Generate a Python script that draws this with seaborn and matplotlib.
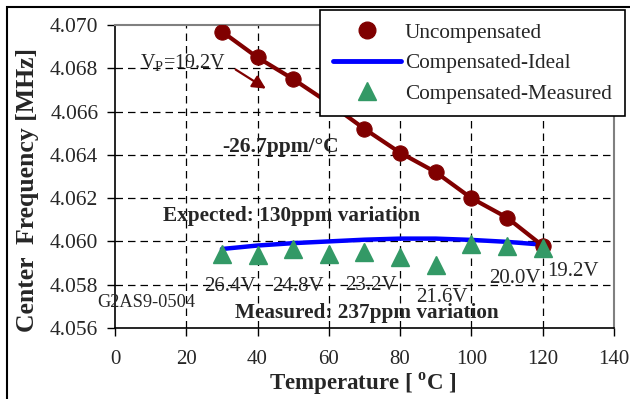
import numpy as np
import pandas as pd
import matplotlib
matplotlib.use("Agg")
import matplotlib.pyplot as plt
import seaborn as sns
from matplotlib.patches import Rectangle
from matplotlib.lines import Line2D

# data
temps = [30, 40, 50, 60, 70, 80, 90, 100, 110, 120]
uncomp = [4.0697, 4.0685, 4.0675, 4.0664, 4.0652, 4.0641, 4.0632, 4.0620, 4.0611, 4.0598]
ideal = [4.05965, 4.05981, 4.05992, 4.06000, 4.06008, 4.06013, 4.06013, 4.06007, 4.05998, 4.05985]
measured = [4.05944, 4.05937, 4.05963, 4.05941, 4.05950, 4.05930, 4.05890, 4.05990, 4.05980, 4.05970]
volt_labels = ["26.4V", "24.8V", "23.2V", "21.6V", "20.0V", "19.2V"]
x_ticks = [0, 20, 40, 60, 80, 100, 120, 140]
y_ticks = [4.056, 4.058, 4.060, 4.062, 4.064, 4.066, 4.068, 4.070]

df = pd.DataFrame({"T": temps, "unc": uncomp, "ideal": ideal, "meas": measured})

sns.set_style("white")
plt.rcParams['font.family'] = ['Liberation Serif', 'DejaVu Serif']
plt.rcParams['mathtext.fontset'] = 'custom'
plt.rcParams['mathtext.rm'] = 'Liberation Serif'
plt.rcParams['mathtext.bf'] = 'Liberation Serif:bold'

RED = '#800000'
BLUE = '#0000FF'
GREEN = '#339966'

fig = plt.figure(figsize=(6.3, 3.99), dpi=100)
ax = fig.add_axes([0.1825, 0.178, 0.792, 0.7593])

# dashed grid
for gx in x_ticks[1:-1]:
    ax.axvline(gx, color='black', lw=0.9, ls=(0, (6, 4)), zorder=0)
for gy in y_ticks[1:-1]:
    ax.axhline(gy, color='black', lw=0.9, ls=(0, (6, 4)), zorder=0)

sns.lineplot(data=df, x="T", y="unc", ax=ax, color=RED, lw=3, marker='o',
             markersize=11, markeredgecolor=RED, legend=False, zorder=3)
sns.lineplot(data=df, x="T", y="ideal", ax=ax, color=BLUE, lw=3.2, legend=False, zorder=2)
ax.plot(df["T"], df["meas"], ls='none', marker='^', markersize=13, color=GREEN, zorder=4)

ax.set_xlim(0, 140)
ax.set_ylim(4.056, 4.070)
ax.set_xticks(x_ticks)
ax.set_yticks(y_ticks)
ax.set_xticklabels([str(t) for t in x_ticks], fontsize=15)
ax.set_yticklabels([f"{t:.3f}" for t in y_ticks], fontsize=15.5)
ax.tick_params(axis='both', direction='out', length=6, width=1, color='black',
               bottom=True, left=True)
ax.tick_params(axis='x', pad=10)
ax.tick_params(axis='y', pad=6)
for s in ['left', 'bottom']:
    ax.spines[s].set_color('black')
    ax.spines[s].set_linewidth(1.2)
for s in ['top', 'right']:
    ax.spines[s].set_color('#808080')
    ax.spines[s].set_linewidth(1.5)

ax.set_xlabel("Temperature [ $^{\\mathbf{o}}$C ]", fontsize=16.5, fontweight='bold')
ax.xaxis.set_label_coords((363 - 115) / 499, -(384 - 328) / 303)
ax.xaxis.label.set_va('center')
ax.set_ylabel("Center  Frequency [MHz]", fontsize=18.5, fontweight='bold')
ax.yaxis.set_label_coords(-(115 - 28) / 499, (328 - 190) / 303)
ax.yaxis.label.set_va('center')

# annotations
ax.text(7.0, 4.06824, "V$_{\\mathrm{P}}$=19.2V", fontsize=14.5, va='center', ha='left')
ax.annotate("", xy=(43.0, 4.06699), xytext=(33.2, 4.06801),
            arrowprops=dict(arrowstyle='-|>', color=RED, lw=1.6, mutation_scale=20))
ax.text(30.1, 4.06436, "-26.7ppm/°C", fontsize=15.5, fontweight='bold', va='center')
ax.text(13.5, 4.06117, "Expected: 130ppm variation", fontsize=15.3, fontweight='bold', va='center')
ax.text(33.7, 4.05668, "Measured: 237ppm variation", fontsize=15.3, fontweight='bold', va='center')
ax.text(-5.1, 4.05719, "G2AS9-0504", fontsize=13.2, va='center', ha='left')

label_pos = [(32.3, 4.05793), (51.4, 4.05793), (71.7, 4.05797),
             (91.6, 4.05742), (112.2, 4.0583), (128.5, 4.05862)]
for lab, (lx, ly) in zip(volt_labels, label_pos):
    ax.text(lx, ly, lab, fontsize=15, ha='center', va='center')

handles = [
    Line2D([], [], ls='none', marker='o', markersize=12, color=RED),
    Line2D([], [], color=BLUE, lw=3.5),
    Line2D([], [], ls='none', marker='^', markersize=13, color=GREEN),
]
names = ['Uncompensated', 'Compensated-Ideal', 'Compensated-Measured']
leg = ax.legend(handles, names, loc='upper left', bbox_to_anchor=(320 / 630, 1 - 10 / 399),
                bbox_transform=fig.transFigure, fontsize=15.3, frameon=True, fancybox=False,
                edgecolor='black', framealpha=1, borderpad=0.6, labelspacing=0.5,
                handlelength=3.2, handletextpad=0.2, borderaxespad=0)
leg.get_frame().set_linewidth(1.2)
leg.set_zorder(10)

# outer frame
fig.patches.append(Rectangle((7 / 630, -0.1), 1.2, 1 - 7 / 399 + 0.1, transform=fig.transFigure,
                             fill=False, edgecolor='black', lw=1.5))

fig.savefig("out.png", dpi=100)
